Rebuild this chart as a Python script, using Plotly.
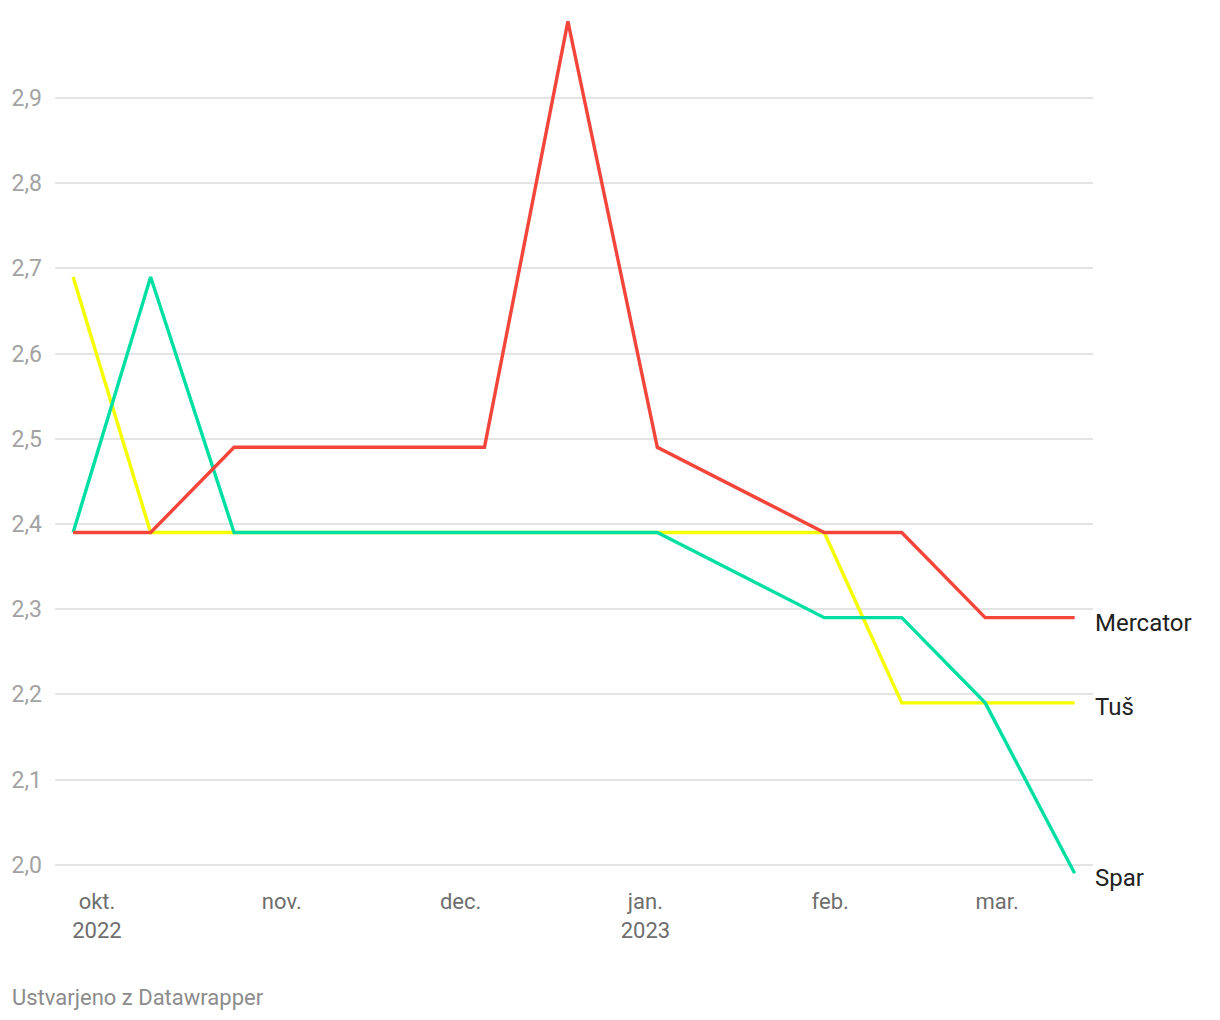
import plotly.graph_objects as go

dates = ["2022-09-27", "2022-10-10", "2022-10-24", "2022-12-05", "2022-12-19",
         "2023-01-03", "2023-01-31", "2023-02-13", "2023-02-27", "2023-03-14"]
mercator = [2.39, 2.39, 2.49, 2.49, 2.99, 2.49, 2.39, 2.39, 2.29, 2.29]
tus = [2.69, 2.39, 2.39, 2.39, 2.39, 2.39, 2.39, 2.19, 2.19, 2.19]
spar = [2.39, 2.69, 2.39, 2.39, 2.39, 2.39, 2.29, 2.29, 2.19, 1.99]

series = [("Tuš", tus, "#f4ff00"), ("Spar", spar, "#00dfa3"), ("Mercator", mercator, "#f4453a")]

x_tickvals = ["2022-10-01", "2022-11-01", "2022-12-01", "2023-01-01", "2023-02-01", "2023-03-01"]
x_ticktext = ["okt.<br>2022", "nov.", "dec.", "jan.<br>2023", "feb.", "mar."]
y_tickvals = [2.0, 2.1, 2.2, 2.3, 2.4, 2.5, 2.6, 2.7, 2.8, 2.9]

fig = go.Figure()
for name, vals, col in series:
    fig.add_trace(go.Scatter(x=dates, y=vals, mode="lines", name=name,
                             line=dict(color=col, width=3.4), hoverinfo="x+y+name"))

label_shift = {"Mercator": -5, "Tuš": -4, "Spar": -5}
for name, vals, col in series:
    fig.add_annotation(x=dates[-1], y=vals[-1], text=name, showarrow=False,
                       xanchor="left", yanchor="middle", xshift=18, yshift=label_shift[name],
                       font=dict(family="Roboto", size=24, color="#222222"))

# page body has an 8px margin
W, H = 1212, 1012
L, R, T, B = 47, 127, 7, 134
pw, ph = W - L - R, H - T - B
fig.add_annotation(xref="paper", yref="paper", x=(2 - L) / pw, y=-(989 - (H - B)) / ph,
                   xanchor="left", yanchor="middle", showarrow=False,
                   text="Ustvarjeno z Datawrapper",
                   font=dict(family="Roboto", size=22, color="#8c8c8c"))

fig.update_layout(
    width=W, height=H,
    margin=dict(l=L, r=R, t=T, b=B, autoexpand=False),
    paper_bgcolor="white", plot_bgcolor="white",
    showlegend=False,
    separators=",.",
    font=dict(family="Roboto"),
    xaxis=dict(type="date", range=["2022-09-23 23:00", "2023-03-17 02:00"],
               tickvals=x_tickvals, ticktext=x_ticktext, showgrid=False,
               zeroline=False, showline=False, ticks="",
               tickfont=dict(family="Roboto", size=22, color="#6e6e6e")),
    yaxis=dict(range=[1.975, 2.9975], tickvals=y_tickvals, tickformat=".1f",
               showgrid=True, gridcolor="#e4e4e4", gridwidth=2, zeroline=False,
               showline=False, ticks="", ticklabelstandoff=12,
               tickfont=dict(family="Roboto", size=23, color="#a3a3a3")),
)

fig.write_html("out.html")
